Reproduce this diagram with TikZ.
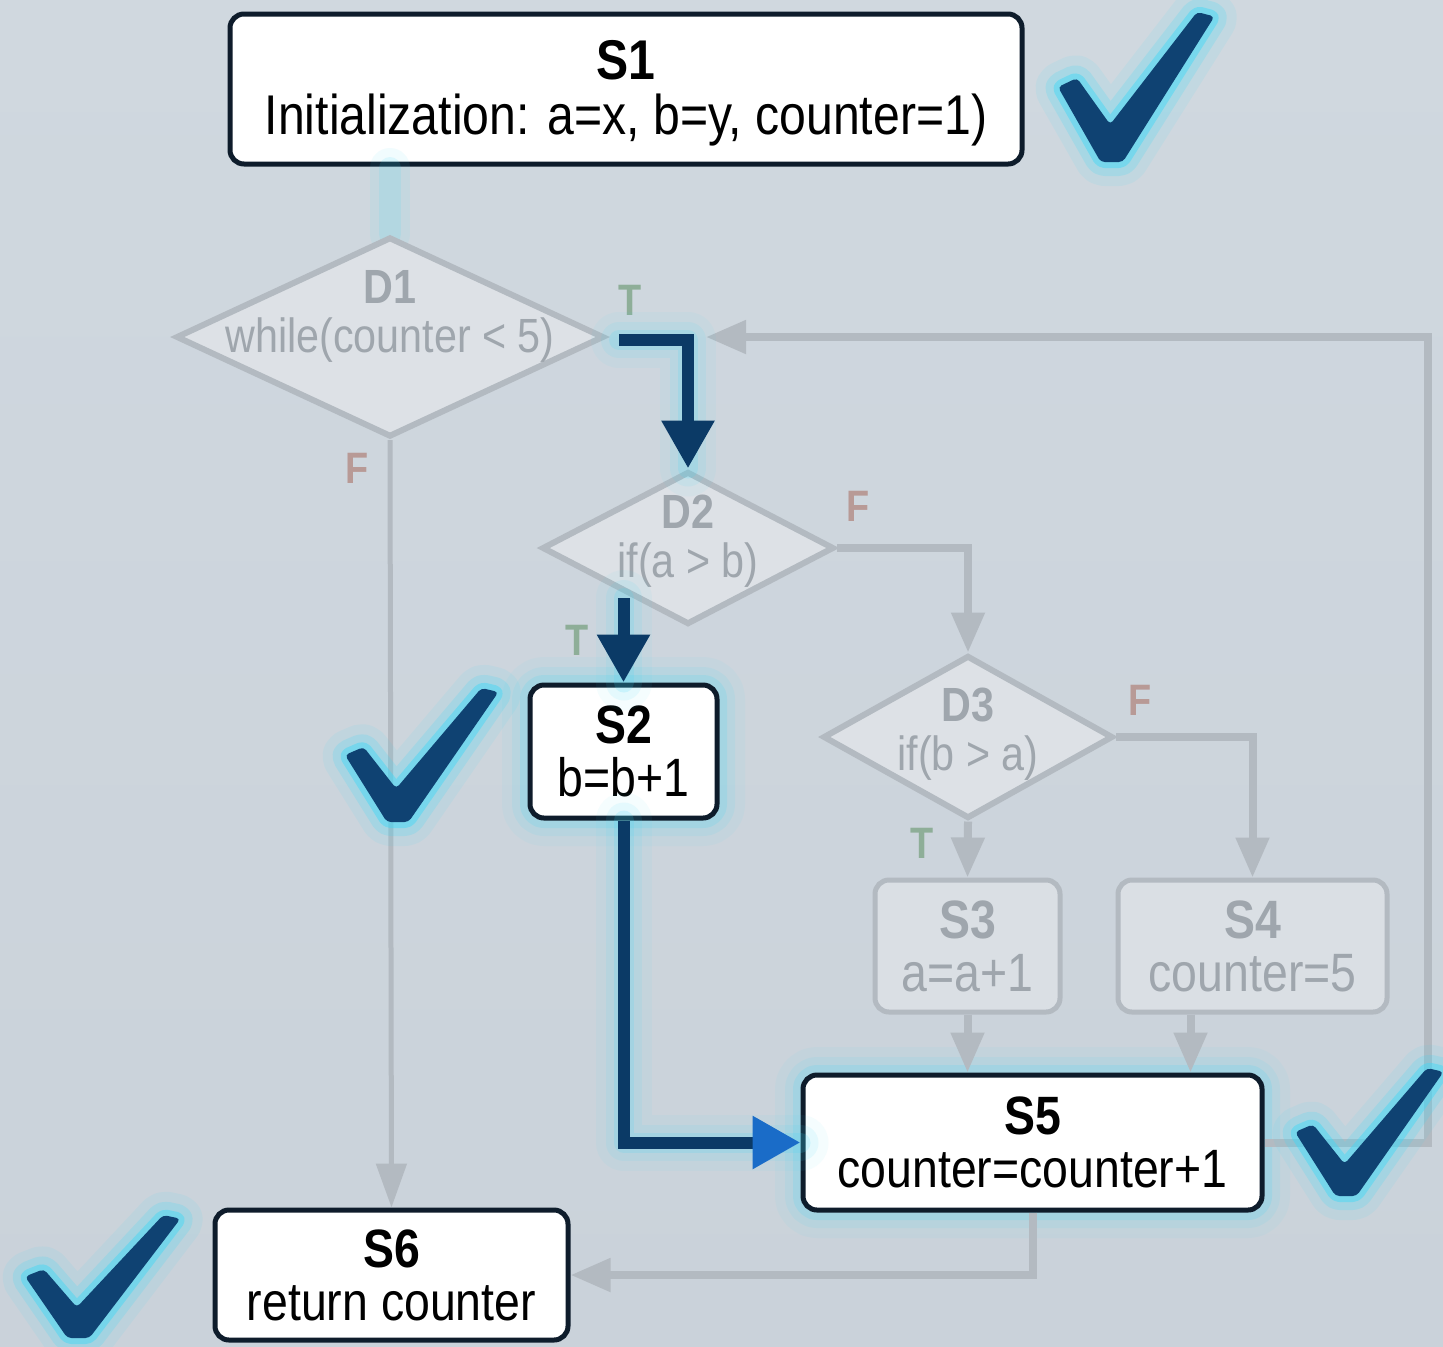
\documentclass[tikz,border=0pt]{standalone}
\usepackage{fontspec}
\setmainfont{Liberation Sans}[FakeStretch=0.86]
\usetikzlibrary{arrows.meta,shapes.geometric,calc}

\definecolor{bgtop}{HTML}{D0D8DF}
\definecolor{bgbot}{HTML}{CAD2DA}
\definecolor{ink}{HTML}{0E1C2B}
\definecolor{navy}{HTML}{0B3A66}
\definecolor{tickc}{HTML}{0F4272}
\definecolor{glowc}{HTML}{3ED9F7}
\definecolor{greyln}{HTML}{B3BAC1}
\definecolor{greytx}{HTML}{9FA6AD}
\definecolor{dfill}{HTML}{DDE1E6}
\definecolor{sfill}{HTML}{DADFE4}
\definecolor{tcol}{HTML}{8EAE98}
\definecolor{fcol}{HTML}{B89A96}
\definecolor{tipblue}{HTML}{1A6CC8}

\tikzset{
  glow/.style={
    preaction={draw=glowc, line width=28pt, draw opacity=0.05, arrows=-, line join=round, line cap=round},
    preaction={draw=glowc, line width=18pt, draw opacity=0.09, arrows=-, line join=round, line cap=round},
    preaction={draw=glowc, line width=10pt, draw opacity=0.16, arrows=-, line join=round, line cap=round}},
  softglow/.style={
    preaction={draw=glowc, line width=20pt, draw opacity=0.07, line cap=round},
    preaction={draw=glowc, line width=11pt, draw opacity=0.12, line cap=round}},
  actbox/.style={draw=ink, line width=2.5pt, fill=white, rounded corners=7pt,
    align=center, inner sep=0pt, font=\fontsize{27}{26.5}\selectfont},
  idlebox/.style={draw=greyln, line width=2.5pt, fill=sfill, rounded corners=7pt,
    align=center, inner sep=0pt, text=greytx, font=\fontsize{27}{26.5}\selectfont},
  boxtext/.style={align=center, inner sep=0pt, font=\fontsize{28}{27.5}\selectfont},
  dshape/.style={diamond, draw=greyln, line width=3pt, fill=dfill, inner sep=0pt},
  dtext/.style={align=center, inner sep=0pt, text=greytx, font=\fontsize{24}{24.5}\selectfont},
  tlbl/.style={text=tcol, font=\fontsize{22}{22}\selectfont\bfseries, inner sep=0pt},
  flbl/.style={text=fcol, font=\fontsize{22}{22}\selectfont\bfseries, inner sep=0pt},
  darkarrow/.style={draw=navy, line width=6pt, -{Triangle[width=25pt,length=24pt]}},
  greyarrow/.style={draw=greyln, line width=4pt, -{Triangle[width=16pt,length=20pt]}},
  thinarrow/.style={draw=greyln, line width=2.5pt, -{Triangle[width=15pt,length=22pt]}},
  tickglow/.style={
    preaction={draw=glowc, line width=24pt, draw opacity=0.09, line join=round},
    preaction={draw=glowc, line width=14pt, draw opacity=0.20, line join=round},
    preaction={draw=glowc, line width=6pt, draw opacity=0.45, line join=round},
    fill=tickc}
}

% check mark inside the box left=#1, top=#2, width=#3, height=#4 (pixel units)
\newcommand\tickmark[4]{%
  \begin{scope}[shift={(#1,#2+#4)}, xscale=#3, yscale=-#4]
    \path[tickglow, rounded corners=2pt]
      (0.00,0.50) -- (0.12,0.56) -- (0.33,0.25) -- (0.88,1.00) -- (0.99,0.97)
      -- (0.41,0.00) -- (0.27,0.00) -- cycle;
  \end{scope}}

\begin{document}
\begin{tikzpicture}[x=0.5pt, y=-0.5pt]
  % canvas
  \useasboundingbox (0,0) rectangle (1443,1346);
  \shade[top color=bgtop, bottom color=bgbot] (0,0) rectangle (1443,1346);

  % statements and decisions
  \node[actbox, minimum width=396pt, minimum height=75pt] (S1) at (626,89) {};
  \node[boxtext] (S1t) at (626,93)
    {\textbf{S1}\\Initialization: a=x, b=y, counter=1)};

  \path[softglow] (390,168) -- (390,234);

  \node[dshape, minimum width=214pt, minimum height=100pt] (D1) at (390,337) {};
  \node[dtext] (D1t) at (390,316) {\textbf{D1}\\while(counter < 5)};

  \node[dshape, minimum width=146pt, minimum height=76.5pt] (D2) at (688,548) {};
  \node[dtext] (D2t) at (688,541) {\textbf{D2}\\if(a > b)};

  \node[dshape, minimum width=145pt, minimum height=81.5pt] (D3) at (968,737) {};
  \node[dtext] (D3t) at (968,734) {\textbf{D3}\\if(b > a)};

  \node[actbox, glow, minimum width=93.5pt, minimum height=66.5pt] (S2) at (623.5,751.5)
    {\textbf{S2}\\b=b+1};
  \node[idlebox, minimum width=92.5pt, minimum height=66pt] (S3) at (967.5,946)
    {\textbf{S3}\\a=a+1};
  \node[idlebox, minimum width=134.5pt, minimum height=66pt] (S4) at (1252.5,946)
    {\textbf{S4}\\counter=5};
  \node[actbox, glow, minimum width=229.5pt, minimum height=67.5pt] (S5) at (1032.5,1142.5)
    {\textbf{S5}\\counter=counter+1};
  \node[actbox, minimum width=176.5pt, minimum height=65pt] (S6) at (391.5,1275)
    {\textbf{S6}\\return counter};

  % branch labels
  \node[tlbl] (lT1) at (630,300) {T};
  \node[flbl] (lF1) at (357,468) {F};
  \node[flbl] (lF2) at (858,506) {F};
  \node[tlbl] (lT2) at (577,640) {T};
  \node[flbl] (lF3) at (1140,700) {F};
  \node[tlbl] (lT3) at (922,843) {T};

  % helper points for the connectors
  \path (D1.east) ++(12,3) coordinate (d1out);
  \path (S2.north |- D2.center) ++(0,50) coordinate (d2out);
  \coordinate (s4out) at ([xshift=-31pt]S4.south);
  \coordinate (loopin) at (706,337);

  % grey connectors
  \draw[thinarrow] (D1.south) -- (S6.north);
  \draw[greyarrow] (D2.east) -| (D3.north);
  \draw[greyarrow] (D3.south) -- (S3.north);
  \draw[greyarrow] (D3.east) -| (S4.north);
  \draw[greyarrow] (S3.south) -- (S3.south |- S5.north);
  \draw[greyarrow] (s4out) -- (s4out |- S5.north);
  \draw[greyarrow] (S5.south) |- (S6.east);
  \draw[greyarrow] (S5.east) -- ++(163,0) |- (loopin);

  % highlighted path
  \draw[darkarrow, glow] (d1out) -| (D2.north);
  \draw[darkarrow, glow] (d2out) -- (S2.north);
  \draw[draw=navy, line width=6pt, glow,
        -{Triangle[width=25pt,length=24pt,color=tipblue]}] (S2.south) |- (S5.west);

  % check marks
  \tickmark{1058}{12}{158}{150}
  \tickmark{345}{688}{155}{134}
  \tickmark{1295}{1068}{150}{128}
  \tickmark{25}{1215}{157}{123}
\end{tikzpicture}
\end{document}
